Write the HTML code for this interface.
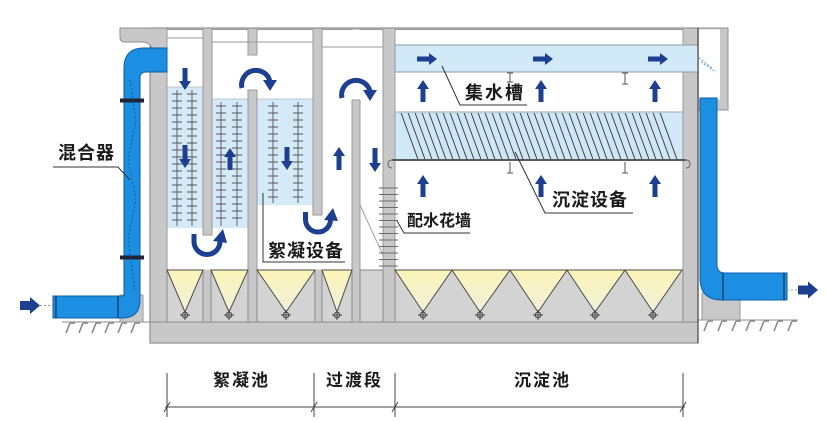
<!DOCTYPE html>
<html>
<head>
<meta charset="utf-8">
<style>
html,body{margin:0;padding:0;background:#fff;}
svg{display:block;}
.t{font-family:"Liberation Sans","Noto Sans CJK SC",sans-serif;font-weight:bold;fill:#1a1a1a;}
</style>
</head>
<body>
<svg width="825" height="422" viewBox="0 0 825 422" xmlns="http://www.w3.org/2000/svg">
<defs>
  <linearGradient id="yg" x1="0" y1="0" x2="0" y2="1">
    <stop offset="0" stop-color="#fbf5b6"/>
    <stop offset="1" stop-color="#f1efdc"/>
  </linearGradient>
  <pattern id="hatch" patternUnits="userSpaceOnUse" width="7" height="10" patternTransform="skewX(20)">
    <rect width="7" height="10" fill="#cfe6f6"/>
    <line x1="3" y1="0" x2="3" y2="10" stroke="#3a3a3a" stroke-width="1"/>
  </pattern>
</defs>

<!-- ground left -->
<line x1="62" y1="322" x2="150" y2="322" stroke="#888" stroke-width="1"/>
<g stroke="#8a8a8a" stroke-width="1.6">
  <line x1="70" y1="323" x2="66" y2="333"/><line x1="70" y1="323" x2="75" y2="323"/>
  <line x1="83" y1="323" x2="79" y2="333"/><line x1="83" y1="323" x2="88" y2="323"/>
  <line x1="96" y1="323" x2="92" y2="333"/><line x1="96" y1="323" x2="101" y2="323"/>
  <line x1="109" y1="323" x2="105" y2="333"/><line x1="109" y1="323" x2="114" y2="323"/>
  <line x1="122" y1="323" x2="118" y2="333"/><line x1="122" y1="323" x2="127" y2="323"/>
  <line x1="135" y1="323" x2="131" y2="333"/><line x1="135" y1="323" x2="140" y2="323"/>
</g>
<!-- ground right -->
<line x1="698" y1="320" x2="798" y2="320" stroke="#888" stroke-width="1"/>
<g stroke="#8a8a8a" stroke-width="1.6">
  <line x1="708" y1="321" x2="704" y2="331"/><line x1="708" y1="321" x2="713" y2="321"/>
  <line x1="722" y1="321" x2="718" y2="331"/><line x1="722" y1="321" x2="727" y2="321"/>
  <line x1="736" y1="321" x2="732" y2="331"/><line x1="736" y1="321" x2="741" y2="321"/>
  <line x1="750" y1="321" x2="746" y2="331"/><line x1="750" y1="321" x2="755" y2="321"/>
  <line x1="764" y1="321" x2="760" y2="331"/><line x1="764" y1="321" x2="769" y2="321"/>
  <line x1="778" y1="321" x2="774" y2="331"/><line x1="778" y1="321" x2="783" y2="321"/>
  <line x1="792" y1="321" x2="788" y2="331"/><line x1="792" y1="321" x2="797" y2="321"/>
</g>

<!-- supports -->
<rect x="120" y="295" width="23" height="27" fill="#c9c9c9" stroke="#999" stroke-width="1"/>
<rect x="702" y="293" width="38" height="27" fill="#c9c9c9" stroke="#999" stroke-width="1"/>

<!-- tank body -->
<rect x="150" y="28" width="548" height="315" fill="#c8c8c8" stroke="#8f8f8f" stroke-width="1.2"/>
<!-- left top slab -->
<path d="M120,28 H167 V48 H152 Q149,42 142,42 H125 Q120,42 120,37 Z" fill="#c8c8c8" stroke="#8f8f8f" stroke-width="1"/>
<!-- outlet box -->
<rect x="698" y="28" width="30" height="82" fill="#c8c8c8" stroke="#8f8f8f" stroke-width="1"/>
<rect x="699" y="29.5" width="21" height="70" fill="#fff"/>

<!-- chamber interiors -->
<g fill="#fff" stroke="#9a9a9a" stroke-width="1">
  <rect x="167" y="29.5" width="36" height="240.5"/>
  <rect x="212" y="29.5" width="36" height="240.5"/>
  <rect x="257" y="29.5" width="56" height="240.5"/>
  <rect x="322" y="29.5" width="30" height="240.5"/>
  <rect x="360" y="29.5" width="23" height="240.5"/>
  <rect x="395" y="29.5" width="288" height="240.5"/>
</g>
<!-- passages -->
<g fill="#fff">
  <rect x="202" y="235.5" width="11" height="34"/>
  <rect x="247" y="55.5" width="11" height="34"/>
  <rect x="312" y="215.5" width="11" height="54"/>
  <rect x="351" y="30" width="10" height="70"/>
</g>
<g stroke="#9a9a9a" stroke-width="1">
  <line x1="203" y1="235" x2="212" y2="235"/>
  <line x1="248" y1="55" x2="257" y2="55"/>
  <line x1="248" y1="90" x2="257" y2="90"/>
  <line x1="313" y1="215" x2="322" y2="215"/>
  <line x1="352" y1="100" x2="360" y2="100"/>
</g>

<!-- water fills -->
<g fill="#d4eaf8">
  <rect x="167.5" y="87" width="35" height="141"/>
  <rect x="212.5" y="99" width="35" height="129"/>
  <rect x="257.5" y="99" width="55" height="106"/>
</g>
<g stroke="#a8b8c4" stroke-width="0.8">
  <line x1="167.5" y1="87" x2="202.5" y2="87"/>
  <line x1="212.5" y1="99" x2="247.5" y2="99"/>
  <line x1="257.5" y1="99" x2="312.5" y2="99"/>
</g>
<!-- water surface lines -->
<g stroke="#9a9a9a" stroke-width="0.9">
  <line x1="167" y1="38" x2="203" y2="38"/>
  <line x1="212" y1="42" x2="313" y2="42"/>
  <line x1="322" y1="47" x2="383" y2="47"/>
</g>

<!-- netting frames -->
<g stroke="#555" stroke-width="0.9">
  <line x1="177" y1="90" x2="177" y2="226"/><line x1="192" y1="90" x2="192" y2="226"/>
  <line x1="221" y1="102" x2="221" y2="226"/><line x1="237" y1="102" x2="237" y2="226"/>
  <line x1="273" y1="102" x2="273" y2="203"/><line x1="298" y1="102" x2="298" y2="203"/>
</g>
<g stroke="#555" stroke-width="1">
  <path d="M172,94h10M172,101h10M172,108h10M172,115h10M172,122h10M172,129h10M172,136h10M172,143h10M172,150h10M172,157h10M172,164h10M172,171h10M172,178h10M172,185h10M172,192h10M172,199h10M172,206h10M172,213h10M172,220h10"/>
  <path d="M187,94h10M187,101h10M187,108h10M187,115h10M187,122h10M187,129h10M187,136h10M187,143h10M187,150h10M187,157h10M187,164h10M187,171h10M187,178h10M187,185h10M187,192h10M187,199h10M187,206h10M187,213h10M187,220h10"/>
  <path d="M216,106h10M216,113h10M216,120h10M216,127h10M216,134h10M216,141h10M216,148h10M216,155h10M216,162h10M216,169h10M216,176h10M216,183h10M216,190h10M216,197h10M216,204h10M216,211h10M216,218h10"/>
  <path d="M232,106h10M232,113h10M232,120h10M232,127h10M232,134h10M232,141h10M232,148h10M232,155h10M232,162h10M232,169h10M232,176h10M232,183h10M232,190h10M232,197h10M232,204h10M232,211h10M232,218h10"/>
  <path d="M268,106h10M268,113h10M268,120h10M268,127h10M268,134h10M268,141h10M268,148h10M268,155h10M268,162h10M268,169h10M268,176h10M268,183h10M268,190h10M268,197h10"/>
  <path d="M293,106h10M293,113h10M293,120h10M293,127h10M293,134h10M293,141h10M293,148h10M293,155h10M293,162h10M293,169h10M293,176h10M293,183h10M293,190h10M293,197h10"/>
</g>

<!-- hopper zone -->
<g fill="#d3d3d3" stroke="#8a8a8a" stroke-width="1">
  <rect x="167" y="270" width="36" height="52"/>
  <rect x="211" y="270" width="37" height="52"/>
  <rect x="257" y="270" width="58" height="52"/>
  <rect x="322" y="270" width="30" height="52"/>
  <rect x="360" y="270" width="23" height="52"/>
  <rect x="395" y="270" width="288" height="52"/>
</g>
<g fill="url(#yg)" stroke="#4a4a4a" stroke-width="1">
  <polygon points="167,270 185,312 203,270"/>
  <polygon points="211,270 229,312 248,270"/>
  <polygon points="257,270 286,312 315,270"/>
  <polygon points="322,270 337,312 352,270"/>
  <polygon points="395,270 423,312 452,270"/>
  <polygon points="452,270 480,312 510,270"/>
  <polygon points="510,270 538,312 567,270"/>
  <polygon points="567,270 595,312 625,270"/>
  <polygon points="625,270 653,312 682,270"/>
</g>
<!-- valves -->
<g stroke="#444" stroke-width="1" fill="none">
  <circle cx="185" cy="315" r="2.8"/><path d="M180,315h10M185,310v10"/>
  <circle cx="229" cy="315" r="2.8"/><path d="M224,315h10M229,310v10"/>
  <circle cx="286" cy="315" r="2.8"/><path d="M281,315h10M286,310v10"/>
  <circle cx="337" cy="315" r="2.8"/><path d="M332,315h10M337,310v10"/>
  <circle cx="423" cy="315" r="2.8"/><path d="M418,315h10M423,310v10"/>
  <circle cx="480" cy="315" r="2.8"/><path d="M475,315h10M480,310v10"/>
  <circle cx="538" cy="315" r="2.8"/><path d="M533,315h10M538,310v10"/>
  <circle cx="595" cy="315" r="2.8"/><path d="M590,315h10M595,310v10"/>
  <circle cx="653" cy="315" r="2.8"/><path d="M648,315h10M653,310v10"/>
</g>
<line x1="150" y1="322" x2="698" y2="322" stroke="#8a8a8a" stroke-width="1"/>

<!-- transition diagonal + perforated wall -->
<line x1="360" y1="205" x2="383" y2="255" stroke="#a0a0a0" stroke-width="1"/>
<g stroke="#6a6a6a" stroke-width="1">
  <path d="M379,188h19M379,194.5h19M379,201h19M379,207.5h19M379,214h19M379,220.5h19M379,227h19M379,233.5h19M379,240h19M379,246.5h19M379,253h19M379,259.5h19M379,266h19"/>
</g>

<!-- sedimentation internals -->
<rect x="395" y="45" width="303" height="27" fill="#d2e9f8" stroke="#8d9aa6" stroke-width="1"/>
<rect x="395.5" y="112" width="287" height="48" fill="#d2e9f8"/>
<line x1="395" y1="112" x2="683" y2="112" stroke="#9aa" stroke-width="1"/>
<polygon points="397,113 663,113 680,159 413,159" fill="url(#hatch)"/>
<line x1="392" y1="160" x2="686" y2="160" stroke="#5a5a5a" stroke-width="2"/>
<path d="M392,160 q-4,0 -4,4 q0,4 4,4" fill="none" stroke="#666" stroke-width="1"/>
<path d="M686,160 q4,0 4,4 q0,4 -4,4" fill="none" stroke="#666" stroke-width="1"/>
<g stroke="#555" stroke-width="1">
  <path d="M510,73v9M507,73h6M507,82h6"/>
  <path d="M625,73v11M622,73h6M622,84h6"/>
  <path d="M510,162v11M507,173h6"/>
  <path d="M625,162v11M622,173h6"/>
</g>
<!-- outlet waterfall -->
<g stroke="#5a9fd8" stroke-width="1" stroke-dasharray="2,1.5">
  <line x1="699" y1="58" x2="712" y2="68"/>
  <line x1="701" y1="62" x2="716" y2="72"/>
</g>
<!-- right outer line -->
<line x1="698" y1="28" x2="698" y2="343" stroke="#333" stroke-width="1"/>

<!-- left pipe -->
<path d="M53,296 H124 V68 Q124,48 144,48 H167 V72 H146 Q140,72 140,78 V300 Q140,318 122,318 H53 Z" fill="#1d8fe3" stroke="#0d5ea8" stroke-width="1"/>
<g stroke="#123" stroke-width="1">
  <line x1="118" y1="296" x2="118" y2="318"/>
  <line x1="56" y1="296" x2="56" y2="318"/>
</g>
<rect x="120" y="98.5" width="24" height="4" fill="#223" />
<rect x="120" y="255.5" width="24" height="4" fill="#223" />
<g stroke="#0b4f8c" stroke-width="0.8" stroke-dasharray="2,2" fill="none">
  <polyline points="130,80 136,120 128,160 136,200 128,240 135,290"/>
</g>
<!-- inlet arrow -->
<line x1="40" y1="305.5" x2="53" y2="305.5" stroke="#999" stroke-width="1" stroke-dasharray="2,2"/>
<polygon points="20,301 30,301 30,297 40,305.5 30,314 30,310 20,310" fill="#1d3f8f"/>

<!-- right pipe -->
<path d="M700,98 H717 V265 Q717,273 725,273 H787 V300 H722 Q700,300 700,278 Z" fill="#1d8fe3" stroke="#0d5ea8" stroke-width="1"/>
<g stroke="#123" stroke-width="1">
  <line x1="723" y1="273" x2="723" y2="300"/>
  <line x1="784" y1="273" x2="784" y2="300"/>
</g>
<line x1="787" y1="290" x2="798" y2="290" stroke="#999" stroke-width="1" stroke-dasharray="2,2"/>
<polygon points="798,285.5 808,285.5 808,281.5 818,290 808,298.5 808,294.5 798,294.5" fill="#1d3f8f"/>

<!-- straight arrows -->
<g fill="#1d3f8f">
  <polygon points="182.5,68 187.5,68 187.5,81 191,81 185,90 179,81 182.5,81"/>
  <polygon points="182.5,145 187.5,145 187.5,159 191,159 185,168 179,159 182.5,159"/>
  <polygon points="284.5,147 289.5,147 289.5,161 293,161 287,170 281,161 284.5,161"/>
  <polygon points="372.5,148 377.5,148 377.5,163 381,163 375,172 369,163 372.5,163"/>
  <polygon points="227.5,170 232.5,170 232.5,157 236,157 230,148 224,157 227.5,157"/>
  <polygon points="336.5,170 341.5,170 341.5,156 345,156 339,147 333,156 336.5,156"/>
  <polygon points="420.5,102 425.5,102 425.5,89 429,89 423,80 417,89 420.5,89"/>
  <polygon points="538.5,102 543.5,102 543.5,89 547,89 541,80 535,89 538.5,89"/>
  <polygon points="652.5,102 657.5,102 657.5,89 661,89 655,80 649,89 652.5,89"/>
  <polygon points="420.5,197 425.5,197 425.5,184 429,184 423,175 417,184 420.5,184"/>
  <polygon points="538.5,197 543.5,197 543.5,184 547,184 541,175 535,184 538.5,184"/>
  <polygon points="652.5,197 657.5,197 657.5,184 661,184 655,175 649,184 652.5,184"/>
  <polygon points="417,56.5 429,56.5 429,53 437,59 429,65 429,61.5 417,61.5"/>
  <polygon points="533,56.5 545,56.5 545,53 553,59 545,65 545,61.5 533,61.5"/>
  <polygon points="648,56.5 660,56.5 660,53 668,59 660,65 660,61.5 648,61.5"/>
</g>

<!-- curved arrows -->
<g fill="none" stroke="#1d3f8f" stroke-width="5">
  <path d="M242,88 A14,14 0 1 1 270,81.5"/>
  <path d="M342,98 A14,14 0 1 1 370,91.5"/>
  <path d="M194,234 L194,241.5 A13,13 0 0 0 220,241.5"/>
  <path d="M305.5,212 L305.5,219.5 A12.5,12.5 0 0 0 330.5,219.5"/>
</g>
<g fill="#1d3f8f">
  <polygon points="263,80 277,80 270,91"/>
  <polygon points="363,90 377,90 370,101"/>
  <polygon points="213,241 227,243 223,229"/>
  <polygon points="324,220 338,221 333,208"/>
</g>

<!-- labels & leaders -->
<g stroke="#333" stroke-width="1" fill="none">
  <polyline points="53,167 118,167 130,180"/>
  <polyline points="527,105 460,105 442,66"/>
  <polyline points="633,213 545,213 515,152"/>
  <polyline points="470,233 404,233 397,221"/>
  <polyline points="263,193 263,262 345,262"/>
</g>
<text class="t" x="58" y="159" font-size="18" letter-spacing="1">混合器</text>
<text class="t" x="465" y="99" font-size="18" letter-spacing="2">集水槽</text>
<text class="t" x="552" y="206" font-size="18" letter-spacing="1">沉淀设备</text>
<text class="t" x="407" y="226" font-size="16">配水花墙</text>
<text class="t" x="268" y="257" font-size="18" letter-spacing="1">絮凝设备</text>

<!-- dimension line -->
<g stroke="#444" stroke-width="1">
  <line x1="165" y1="407" x2="685" y2="407"/>
  <line x1="167" y1="373" x2="167" y2="417"/>
  <line x1="314" y1="373" x2="314" y2="417"/>
  <line x1="395" y1="373" x2="395" y2="417"/>
  <line x1="683" y1="373" x2="683" y2="417"/>
  <line x1="164" y1="412" x2="170" y2="402"/>
  <line x1="311" y1="412" x2="317" y2="402"/>
  <line x1="392" y1="412" x2="398" y2="402"/>
  <line x1="680" y1="412" x2="686" y2="402"/>
</g>
<text class="t" x="213" y="386" font-size="17" letter-spacing="2">絮凝池</text>
<text class="t" x="326" y="386" font-size="17" letter-spacing="2">过渡段</text>
<text class="t" x="514" y="386" font-size="17" letter-spacing="2">沉淀池</text>
</svg>
</body>
</html>
